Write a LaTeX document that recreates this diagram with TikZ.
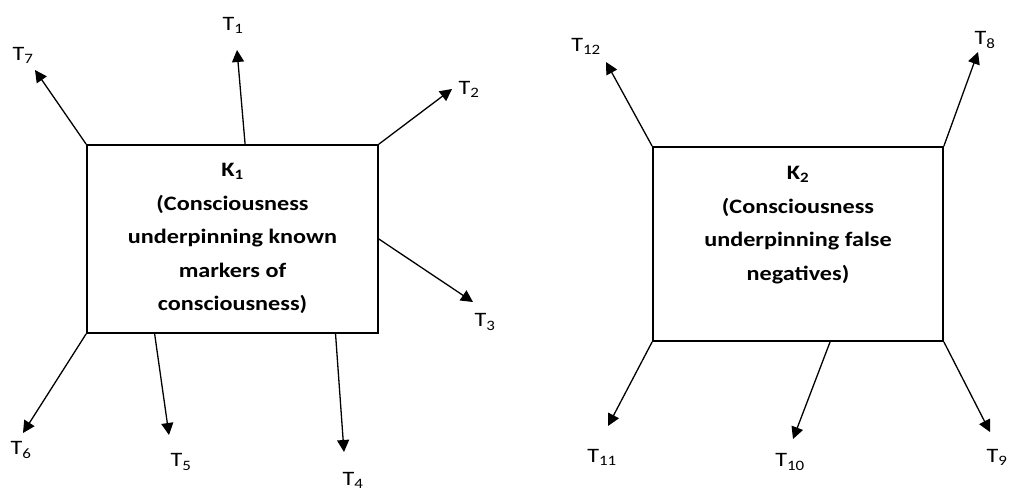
\documentclass[tikz,border=0pt]{standalone}
\usepackage{fontspec}
\setmainfont{Carlito}[FakeStretch=1.18]
\usetikzlibrary{arrows.meta,positioning,calc}

\begin{document}
\begin{tikzpicture}[
  x=1pt,y=-1pt,
  >={Triangle[length=12pt,width=12pt]},
  kbox/.style={draw=black,line width=1.7pt,minimum width=291pt,minimum height=188pt,inner sep=0pt},
  ktext/.style={align=center,inner sep=0pt,font=\fontsize{20.5}{33.5}\selectfont\bfseries},
  tlabel/.style={inner sep=0pt,font=\fontsize{20.5}{24}\selectfont},
  tarrow/.style={->,line width=1.3pt,black},
]
\useasboundingbox (0,0) rectangle (1016,490);

% ---- the two boxes -------------------------------------------------------
\node[kbox] (K1) at (232.5,239) {};
\node[ktext,below=19pt of K1.north] (K1txt)
   {K\textsubscript{1}\\(Consciousness\\underpinning known\\markers of\\consciousness)};

\node[kbox,minimum width=290pt,minimum height=194pt] (K2) at (798,244) {};
\node[ktext,below=20pt of K2.north] (K2txt)
   {K\textsubscript{2}\\(Consciousness\\underpinning false\\negatives)};

% ---- arrow tips ----------------------------------------------------------
\coordinate (t1)  at (237,50);
\coordinate (t2)  at (452,89);
\coordinate (t3)  at (473,302);
\coordinate (t4)  at (344,452);
\coordinate (t5)  at (169,435);
\coordinate (t6)  at (23,433);
\coordinate (t7)  at (35,70);
\coordinate (t8)  at (978,52);
\coordinate (t9)  at (990,432);
\coordinate (t10) at (793,439);
\coordinate (t11) at (608,426);
\coordinate (t12) at (606,62);

% ---- labels --------------------------------------------------------------
\node[tlabel] (T1)  at (233,25)  {T\textsubscript{1}};
\node[tlabel] (T2)  at (469,89)  {T\textsubscript{2}};
\node[tlabel] (T3)  at (485,322) {T\textsubscript{3}};
\node[tlabel] (T4)  at (353,480) {T\textsubscript{4}};
\node[tlabel] (T5)  at (181,462) {T\textsubscript{5}};
\node[tlabel] (T6)  at (21,450)  {T\textsubscript{6}};
\node[tlabel] (T7)  at (23,55)   {T\textsubscript{7}};
\node[tlabel] (T8)  at (985,40)  {T\textsubscript{8}};
\node[tlabel] (T9)  at (997,457) {T\textsubscript{9}};
\node[tlabel] (T10) at (790,462) {T\textsubscript{10}};
\node[tlabel] (T11) at (602,457) {T\textsubscript{11}};
\node[tlabel] (T12) at (586,46)  {T\textsubscript{12}};

% ---- arrows out of K1 ----------------------------------------------------
\draw[tarrow] ($(K1.north west)!0.543!(K1.north east)$) -- (t1);
\draw[tarrow] (K1.north east) -- (t2);
\draw[tarrow] (K1.east) -- (t3);
\draw[tarrow] ($(K1.south west)!0.852!(K1.south east)$) -- (t4);
\draw[tarrow] ($(K1.south west)!0.234!(K1.south east)$) -- (t5);
\draw[tarrow] (K1.south west) -- (t6);
\draw[tarrow] (K1.north west) -- (t7);

% ---- arrows out of K2 ----------------------------------------------------
\draw[tarrow] (K2.north east) -- (t8);
\draw[tarrow] (K2.south east) -- (t9);
\draw[tarrow] ($(K2.south west)!0.61!(K2.south east)$) -- (t10);
\draw[tarrow] (K2.south west) -- (t11);
\draw[tarrow] (K2.north west) -- (t12);

\end{tikzpicture}
\end{document}
